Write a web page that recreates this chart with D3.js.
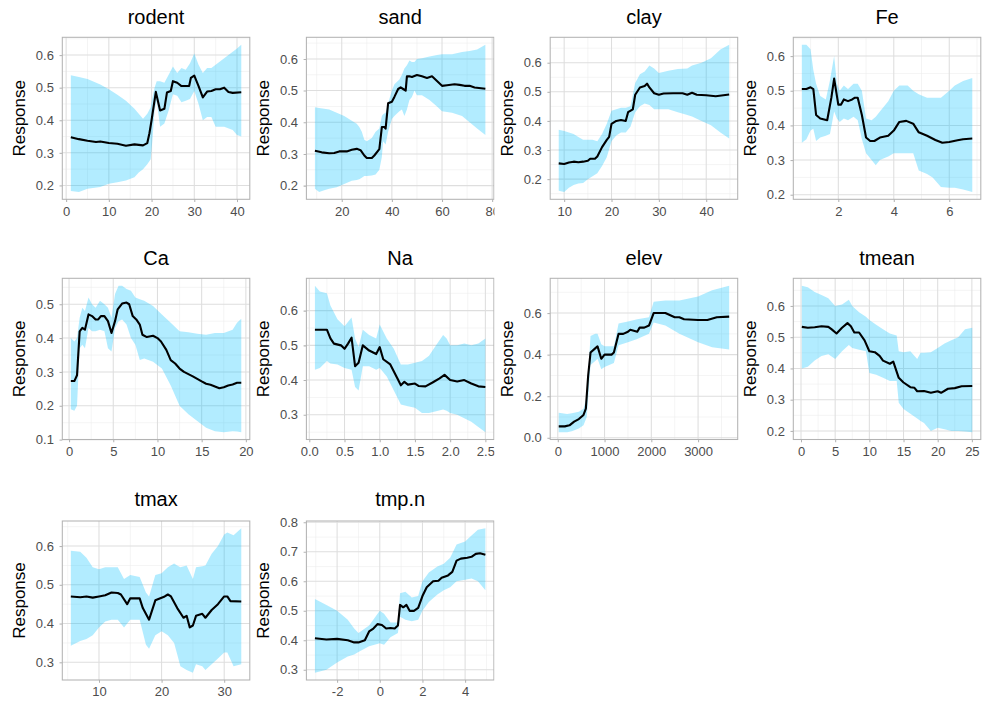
<!DOCTYPE html>
<html>
<head>
<meta charset="utf-8">
<script src="https://cdn.jsdelivr.net/npm/d3@7"></script>
<style>
  html, body { margin: 0; padding: 0; background: #fff; }
  svg { display: block; font-family: "Liberation Sans", Arial, Helvetica, sans-serif; }
</style>
</head>
<body>
<svg id="chart" width="982" height="704"></svg>
<script>
// Partial response curves: fitted response [x, y] and confidence band [x, lower, upper]
const rodentFit = [[1.1,0.348],[3,0.342],[5,0.337],[7,0.333],[8,0.335],[10,0.330],[12,0.328],[14,0.322],[16,0.326],[18,0.323],[19,0.330],[19.5,0.36],[20,0.40],[21,0.487],[22,0.430],[23,0.435],[23.6,0.485],[24.5,0.490],[25,0.520],[26,0.515],[27,0.505],[28.8,0.505],[29.2,0.530],[30,0.537],[31,0.505],[32,0.470],[33,0.488],[34,0.490],[35,0.495],[36,0.495],[37,0.500],[38,0.487],[39,0.484],[41,0.486]];
const rodentBand = [[1.1,0.183,0.538],[3,0.180,0.533],[5,0.190,0.527],[8,0.195,0.510],[10,0.205,0.495],[12,0.210,0.478],[14,0.215,0.460],[16,0.225,0.435],[17,0.240,0.420],[18,0.250,0.405],[19,0.265,0.420],[19.8,0.280,0.440],[20.2,0.340,0.470],[20.7,0.430,0.500],[21.2,0.460,0.520],[22,0.380,0.520],[23,0.390,0.515],[24,0.430,0.540],[25,0.480,0.565],[26,0.475,0.545],[27,0.455,0.560],[28,0.460,0.555],[29,0.465,0.575],[30,0.490,0.605],[31,0.450,0.570],[32,0.400,0.545],[33,0.410,0.560],[34,0.410,0.560],[35,0.380,0.570],[37,0.380,0.590],[39,0.370,0.610],[40,0.355,0.620],[41,0.350,0.632]];

const sandFit = [[9.3,0.310],[12,0.305],[15,0.302],[17,0.303],[19,0.308],[22,0.308],[24,0.313],[26,0.316],[27.5,0.312],[29,0.295],[30,0.287],[32,0.287],[33,0.295],[35,0.315],[36,0.385],[37,0.385],[37.5,0.380],[38.5,0.460],[40,0.465],[41,0.480],[42.5,0.505],[43.5,0.510],[44.5,0.505],[45.5,0.500],[46,0.545],[47,0.545],[48,0.543],[50,0.549],[52,0.545],[54,0.540],[56,0.545],[58,0.530],[60,0.515],[62,0.517],[65,0.520],[67,0.518],[69,0.515],[71,0.515],[73,0.510],[77.3,0.506]];
const sandBand = [[9.3,0.190,0.447],[11,0.180,0.445],[13,0.185,0.443],[15,0.190,0.440],[18,0.195,0.430],[21,0.205,0.420],[24,0.215,0.405],[26,0.218,0.395],[27,0.220,0.385],[28,0.225,0.370],[29,0.230,0.345],[30,0.230,0.340],[32,0.232,0.350],[33.5,0.235,0.370],[35,0.250,0.380],[36,0.290,0.420],[36.5,0.340,0.425],[37.5,0.330,0.430],[38.5,0.370,0.460],[40,0.410,0.500],[41,0.420,0.520],[43,0.435,0.535],[44,0.440,0.550],[45,0.420,0.570],[46,0.440,0.580],[47,0.470,0.595],[48,0.480,0.590],[49,0.500,0.590],[50,0.485,0.600],[52,0.485,0.602],[55,0.470,0.608],[58,0.450,0.612],[60,0.435,0.615],[64,0.430,0.615],[68,0.420,0.622],[71,0.400,0.625],[74,0.380,0.630],[77.3,0.360,0.645]];

const clayFit = [[8.85,0.254],[10,0.252],[11,0.257],[12,0.260],[13,0.258],[14,0.260],[15,0.263],[15.5,0.270],[16.5,0.270],[17,0.278],[18,0.310],[19,0.335],[19.5,0.345],[20,0.390],[21,0.400],[22,0.403],[23,0.400],[23.5,0.430],[24.5,0.440],[25,0.490],[26,0.515],[27,0.520],[27.5,0.528],[28,0.515],[29,0.495],[30,0.490],[31,0.494],[33,0.495],[35,0.495],[36,0.490],[37,0.497],[38,0.490],[40,0.488],[42,0.485],[44.85,0.491]];
const clayBand = [[8.85,0.160,0.370],[10,0.156,0.365],[11,0.170,0.360],[12,0.180,0.355],[13,0.185,0.345],[14,0.187,0.335],[15,0.200,0.335],[16,0.210,0.335],[17,0.220,0.330],[18,0.245,0.355],[19,0.275,0.390],[20,0.330,0.435],[21,0.350,0.440],[22,0.360,0.445],[23,0.360,0.445],[24,0.380,0.450],[25,0.430,0.530],[26,0.450,0.560],[27,0.460,0.570],[28,0.455,0.590],[29,0.440,0.580],[30,0.440,0.565],[32,0.440,0.572],[34,0.430,0.578],[36,0.420,0.580],[37,0.415,0.590],[39,0.400,0.600],[41,0.385,0.615],[43,0.360,0.645],[44.85,0.340,0.662]];

const feFit = [[0.685,0.505],[0.85,0.505],[1.0,0.510],[1.1,0.505],[1.2,0.430],[1.35,0.420],[1.6,0.415],[1.75,0.480],[1.85,0.535],[2.0,0.460],[2.1,0.460],[2.2,0.475],[2.35,0.470],[2.5,0.475],[2.6,0.480],[2.7,0.480],[2.85,0.430],[3.0,0.365],[3.15,0.355],[3.3,0.355],[3.5,0.365],[3.8,0.370],[4.0,0.385],[4.2,0.410],[4.45,0.413],[4.7,0.405],[4.9,0.380],[5.2,0.370],[5.5,0.358],[5.75,0.350],[6.0,0.352],[6.3,0.357],[6.5,0.360],[6.83,0.362]];
const feBand = [[0.685,0.350,0.633],[0.85,0.360,0.633],[1.0,0.385,0.620],[1.1,0.390,0.560],[1.2,0.355,0.520],[1.35,0.365,0.485],[1.55,0.370,0.475],[1.7,0.375,0.530],[1.85,0.440,0.600],[1.95,0.420,0.520],[2.05,0.410,0.500],[2.2,0.420,0.515],[2.35,0.415,0.505],[2.55,0.425,0.520],[2.7,0.415,0.520],[2.85,0.360,0.500],[3.0,0.320,0.420],[3.2,0.300,0.415],[3.35,0.285,0.425],[3.5,0.300,0.440],[3.8,0.310,0.470],[4.0,0.320,0.500],[4.2,0.320,0.515],[4.5,0.320,0.515],[4.7,0.320,0.500],[4.9,0.270,0.490],[5.2,0.260,0.480],[5.4,0.250,0.480],[5.7,0.222,0.480],[6.0,0.220,0.500],[6.2,0.220,0.515],[6.5,0.215,0.528],[6.83,0.208,0.537]];

const caFit = [[0.2,0.273],[0.6,0.273],[0.9,0.290],[1.2,0.420],[1.5,0.430],[1.8,0.425],[2.2,0.470],[2.6,0.465],[3.0,0.455],[3.3,0.455],[3.6,0.465],[4.0,0.465],[4.4,0.450],[4.8,0.415],[5.2,0.450],[5.5,0.485],[6.0,0.502],[6.5,0.505],[6.8,0.500],[7.2,0.465],[7.6,0.455],[8.0,0.440],[8.3,0.410],[8.8,0.403],[9.5,0.407],[10.0,0.400],[10.4,0.390],[11,0.365],[11.5,0.335],[12,0.325],[12.5,0.310],[13,0.300],[14,0.287],[15,0.272],[15.5,0.265],[16,0.262],[16.5,0.257],[17,0.252],[17.5,0.255],[18,0.260],[18.5,0.263],[19,0.268],[19.48,0.268]];
const caBand = [[0.2,0.190,0.400],[0.6,0.185,0.390],[0.9,0.200,0.400],[1.2,0.370,0.460],[1.5,0.380,0.490],[1.8,0.370,0.480],[2.2,0.430,0.520],[2.6,0.420,0.500],[3.0,0.420,0.490],[3.5,0.425,0.510],[4.0,0.420,0.500],[4.4,0.370,0.490],[4.8,0.360,0.460],[5.2,0.430,0.530],[5.6,0.450,0.555],[6.0,0.455,0.555],[6.5,0.440,0.545],[7.0,0.400,0.540],[7.5,0.380,0.520],[8.0,0.335,0.515],[8.5,0.340,0.510],[9.5,0.330,0.495],[10.5,0.310,0.470],[11.5,0.260,0.445],[12.5,0.200,0.420],[13.5,0.175,0.417],[14.5,0.155,0.413],[15.5,0.135,0.410],[16.5,0.125,0.415],[17.5,0.122,0.415],[18.5,0.125,0.425],[19,0.124,0.445],[19.48,0.122,0.457]];

const naFit = [[0.08,0.545],[0.15,0.545],[0.25,0.545],[0.3,0.520],[0.35,0.505],[0.45,0.500],[0.5,0.490],[0.55,0.505],[0.6,0.522],[0.65,0.440],[0.7,0.450],[0.76,0.500],[0.85,0.485],[0.95,0.475],[1.0,0.495],[1.05,0.460],[1.15,0.445],[1.25,0.405],[1.3,0.385],[1.35,0.395],[1.4,0.387],[1.5,0.390],[1.55,0.383],[1.65,0.382],[1.75,0.393],[1.85,0.405],[1.92,0.415],[2.0,0.400],[2.1,0.396],[2.2,0.400],[2.3,0.390],[2.4,0.382],[2.5,0.380]];
const naBand = [[0.08,0.430,0.672],[0.15,0.435,0.655],[0.25,0.455,0.650],[0.3,0.448,0.615],[0.4,0.445,0.575],[0.5,0.435,0.555],[0.6,0.430,0.580],[0.65,0.380,0.520],[0.7,0.370,0.495],[0.76,0.440,0.545],[0.85,0.440,0.530],[0.95,0.430,0.520],[1.0,0.435,0.560],[1.1,0.410,0.520],[1.2,0.370,0.490],[1.3,0.330,0.445],[1.4,0.325,0.445],[1.5,0.320,0.450],[1.6,0.305,0.455],[1.7,0.305,0.470],[1.8,0.310,0.500],[1.9,0.315,0.530],[1.95,0.312,0.520],[2.0,0.305,0.500],[2.1,0.300,0.500],[2.2,0.290,0.505],[2.3,0.280,0.500],[2.4,0.265,0.505],[2.5,0.250,0.520]];

const elevFit = [[20,0.055],[150,0.055],[250,0.060],[350,0.078],[450,0.090],[550,0.110],[600,0.140],[650,0.300],[700,0.410],[800,0.430],[850,0.440],[930,0.380],[1000,0.400],[1150,0.400],[1200,0.410],[1300,0.500],[1400,0.500],[1500,0.510],[1550,0.520],[1700,0.510],[1750,0.530],[1850,0.530],[1950,0.540],[2050,0.600],[2300,0.600],[2500,0.580],[2600,0.580],[2700,0.570],[3000,0.567],[3200,0.567],[3400,0.580],[3665,0.583]];
const elevBand = [[20,0.027,0.120],[200,0.027,0.115],[300,0.032,0.118],[450,0.045,0.125],[550,0.060,0.140],[620,0.100,0.200],[700,0.350,0.490],[800,0.370,0.500],[850,0.380,0.500],[930,0.330,0.450],[1000,0.340,0.440],[1200,0.360,0.440],[1300,0.445,0.550],[1500,0.460,0.560],[1700,0.475,0.570],[1950,0.500,0.580],[2050,0.555,0.655],[2300,0.540,0.660],[2600,0.500,0.660],[3000,0.460,0.680],[3300,0.435,0.710],[3665,0.425,0.732]];

const tmeanFit = [[0.12,0.533],[1,0.530],[2,0.532],[3,0.535],[4,0.533],[4.5,0.525],[5.2,0.512],[6,0.530],[6.8,0.545],[7.3,0.535],[7.8,0.515],[8.5,0.515],[9.3,0.490],[10.0,0.455],[10.8,0.452],[11.5,0.440],[12,0.425],[13,0.415],[13.5,0.422],[14.3,0.370],[15,0.355],[16,0.340],[16.6,0.338],[17,0.327],[18,0.328],[19,0.322],[20,0.327],[20.5,0.322],[21.5,0.335],[22.5,0.337],[23.5,0.343],[25.06,0.344]];
const tmeanBand = [[0.12,0.400,0.665],[1,0.405,0.660],[2,0.425,0.645],[3,0.440,0.635],[4,0.445,0.625],[5,0.430,0.600],[6,0.455,0.605],[7,0.475,0.620],[7.5,0.465,0.600],[8.5,0.460,0.580],[9.5,0.455,0.565],[10,0.385,0.555],[11,0.380,0.540],[12,0.370,0.525],[13,0.360,0.512],[14,0.360,0.505],[14.3,0.290,0.455],[15,0.270,0.452],[16,0.255,0.455],[17,0.240,0.430],[17.5,0.232,0.450],[18,0.225,0.450],[19,0.200,0.452],[20,0.210,0.465],[21,0.205,0.480],[22,0.200,0.490],[23,0.200,0.500],[24,0.198,0.525],[25.06,0.196,0.530]];

const tmaxFit = [[5.5,0.470],[7,0.468],[8,0.470],[9,0.467],[10,0.470],[11,0.473],[12,0.480],[13,0.479],[13.5,0.475],[14.5,0.450],[15,0.465],[16.5,0.465],[17,0.440],[18,0.410],[19,0.460],[20.5,0.470],[21,0.475],[21.5,0.470],[22.5,0.440],[23.5,0.415],[24,0.420],[24.5,0.390],[25,0.395],[25.5,0.420],[26.5,0.425],[27,0.415],[28,0.435],[29,0.450],[30,0.470],[30.5,0.470],[31,0.458],[32.73,0.457]];
const tmaxBand = [[5.5,0.343,0.588],[7,0.355,0.585],[8,0.360,0.570],[9,0.370,0.545],[10,0.390,0.540],[11,0.405,0.545],[12,0.410,0.545],[13,0.410,0.545],[14,0.390,0.515],[15,0.410,0.525],[16.5,0.410,0.520],[17.5,0.345,0.480],[18,0.335,0.470],[19,0.370,0.525],[20,0.380,0.530],[21,0.370,0.545],[22,0.350,0.555],[22.5,0.320,0.550],[23,0.290,0.545],[24,0.280,0.550],[25,0.273,0.515],[25.5,0.295,0.545],[26.5,0.290,0.548],[27,0.280,0.550],[28,0.295,0.580],[29,0.310,0.600],[30,0.325,0.630],[30.5,0.325,0.635],[31.5,0.290,0.628],[32.73,0.295,0.646]];

const tmpnFit = [[-3.04,0.407],[-2.5,0.403],[-2,0.405],[-1.5,0.400],[-1.2,0.393],[-1,0.393],[-0.7,0.400],[-0.5,0.430],[-0.3,0.440],[-0.1,0.455],[0.1,0.452],[0.3,0.440],[0.5,0.442],[0.7,0.440],[0.85,0.450],[0.95,0.520],[1.1,0.512],[1.25,0.520],[1.4,0.500],[1.6,0.500],[1.8,0.510],[2.0,0.550],[2.2,0.580],[2.5,0.600],[2.75,0.602],[2.9,0.612],[3.2,0.620],[3.4,0.632],[3.6,0.670],[3.8,0.677],[4.1,0.680],[4.3,0.683],[4.5,0.693],[4.7,0.695],[4.95,0.690]];
const tmpnBand = [[-3.04,0.290,0.540],[-2.5,0.300,0.520],[-2,0.325,0.500],[-1.5,0.345,0.470],[-1.2,0.352,0.440],[-1,0.360,0.425],[-0.5,0.380,0.450],[0,0.390,0.500],[0.2,0.385,0.490],[0.5,0.410,0.460],[0.85,0.425,0.460],[0.95,0.480,0.560],[1.2,0.470,0.565],[1.5,0.465,0.545],[1.8,0.470,0.550],[2.0,0.500,0.600],[2.3,0.530,0.630],[2.7,0.555,0.650],[3.0,0.570,0.660],[3.3,0.580,0.680],[3.6,0.600,0.725],[4.0,0.605,0.735],[4.3,0.610,0.755],[4.6,0.600,0.775],[4.95,0.570,0.780]];

// Panel titles and axis tick values
const variables = ["rodent", "sand", "clay", "Fe", "Ca", "Na", "elev", "tmean", "tmax", "tmp.n"];
const xTickSets = [[0,10,20,30,40],[20,40,60,80],[10,20,30,40],[2,4,6],[0,5,10,15,20],[0,0.5,1,1.5,2,2.5],[0,1000,2000,3000],[0,5,10,15,20,25],[10,20,30],[-2,0,2,4]];
const yTickSets = [[0.2,0.3,0.4,0.5,0.6],[0.2,0.3,0.4,0.5,0.6],[0.2,0.3,0.4,0.5,0.6],[0.2,0.3,0.4,0.5,0.6],[0.1,0.2,0.3,0.4,0.5],[0.3,0.4,0.5,0.6],[0,0.2,0.4,0.6],[0.2,0.3,0.4,0.5,0.6],[0.3,0.4,0.5,0.6],[0.3,0.4,0.5,0.6,0.7,0.8]];
const xTickDecimals = [0,0,0,0,0,1,0,0,0,0];
const fits = [rodentFit, sandFit, clayFit, feFit, caFit, naFit, elevFit, tmeanFit, tmaxFit, tmpnFit];
const bands = [rodentBand, sandBand, clayBand, feBand, caBand, naBand, elevBand, tmeanBand, tmaxBand, tmpnBand];

// Layout of the 4-column grid of panels
const colLeft = [62.3, 306.4, 550.2, 793.3];
const panelW = 187.5;
const rowTop = [37.3, 278.3, 521];
const rowBottom = [199.3, 439.5, 680];
const rowTitleGap = [13.5, 13.5, 15.5];
const colClipRight = [982, 494.5, 982, 982];

const svg = d3.select("#chart");
const defs = svg.append("defs");

function expand(ext) {
  const pad = (ext[1] - ext[0]) * 0.05;
  return [ext[0] - pad, ext[1] + pad];
}
function minorBreaks(ticks, domain) {
  const step = ticks[1] - ticks[0];
  const out = [];
  for (let v = ticks[0] - step / 2; v <= ticks[ticks.length - 1] + step / 2 + 1e-9; v += step) {
    if (v >= domain[0] && v <= domain[1]) out.push(v);
  }
  return out;
}

variables.forEach((name, i) => {
  const col = i % 4, row = Math.floor(i / 4);
  const left = colLeft[col], right = left + panelW;
  const top = rowTop[row], bottom = rowBottom[row];
  const fit = fits[i], band = bands[i];

  const xs = fit.map(d => d[0]).concat(band.map(d => d[0]));
  const ys = fit.map(d => d[1]).concat(band.map(d => d[1]), band.map(d => d[2]));
  const x = d3.scaleLinear().domain(expand(d3.extent(xs))).range([left, right]);
  const y = d3.scaleLinear().domain(expand(d3.extent(ys))).range([bottom, top]);

  // clip the whole cell on its right side where the next plot starts
  const cellClip = "cell-" + i;
  defs.append("clipPath").attr("id", cellClip)
    .append("rect").attr("x", 0).attr("y", 0).attr("width", colClipRight[col]).attr("height", 704);
  const g = svg.append("g").attr("clip-path", `url(#${cellClip})`);

  const panelClip = "panel-" + i;
  defs.append("clipPath").attr("id", panelClip)
    .append("rect").attr("x", left).attr("y", top).attr("width", right - left).attr("height", bottom - top);

  const xTicks = xTickSets[i], yTicks = yTickSets[i];

  // grid lines
  const grid = g.append("g");
  minorBreaks(xTicks, x.domain()).forEach(v => {
    grid.append("line").attr("x1", x(v)).attr("x2", x(v)).attr("y1", top).attr("y2", bottom)
      .attr("stroke", "#ebebeb").attr("stroke-width", 0.55);
  });
  minorBreaks(yTicks, y.domain()).forEach(v => {
    grid.append("line").attr("x1", left).attr("x2", right).attr("y1", y(v)).attr("y2", y(v))
      .attr("stroke", "#ebebeb").attr("stroke-width", 0.55);
  });
  xTicks.forEach(v => {
    grid.append("line").attr("x1", x(v)).attr("x2", x(v)).attr("y1", top).attr("y2", bottom)
      .attr("stroke", "#dedede").attr("stroke-width", 1.05);
  });
  yTicks.forEach(v => {
    grid.append("line").attr("x1", left).attr("x2", right).attr("y1", y(v)).attr("y2", y(v))
      .attr("stroke", "#dedede").attr("stroke-width", 1.05);
  });

  // confidence band and fitted response
  const plot = g.append("g").attr("clip-path", `url(#${panelClip})`);
  plot.append("path")
    .datum(band)
    .attr("d", d3.area().x(d => x(d[0])).y0(d => y(d[1])).y1(d => y(d[2])))
    .attr("fill", "#00bfff").attr("fill-opacity", 0.3);
  plot.append("path")
    .datum(fit)
    .attr("d", d3.line().x(d => x(d[0])).y(d => y(d[1])))
    .attr("fill", "none").attr("stroke", "#000").attr("stroke-width", 2.1)
    .attr("stroke-linejoin", "round");

  // panel border
  g.append("rect").attr("x", left).attr("y", top).attr("width", right - left).attr("height", bottom - top)
    .attr("fill", "none").attr("stroke", "#b3b3b3").attr("stroke-width", 1.05);

  // axes
  const fmtX = d3.format("." + xTickDecimals[i] + "f");
  const xAxis = d3.axisBottom(x).tickValues(xTicks).tickSize(2.8).tickPadding(4.2)
    .tickFormat(v => fmtX(v).replace("\u2212", "-"));
  const xg = g.append("g").attr("transform", `translate(0,${bottom})`).call(xAxis);
  const yAxis = d3.axisLeft(y).tickValues(yTicks).tickSize(2.8).tickPadding(5.6)
    .tickFormat(d3.format(".1f"));
  const yg = g.append("g").attr("transform", `translate(${left},0)`).call(yAxis);
  [xg, yg].forEach(a => {
    a.select(".domain").remove();
    a.selectAll(".tick line").attr("stroke", "#b3b3b3").attr("stroke-width", 1.05);
    a.selectAll(".tick text").attr("fill", "#4d4d4d").style("font-size", "13px")
      .style("font-family", "'Liberation Sans', Arial, Helvetica, sans-serif");
  });

  // y axis title
  g.append("text")
    .attr("transform", `translate(${left - 37.5},${(top + bottom) / 2}) rotate(-90)`)
    .attr("text-anchor", "middle")
    .style("font-size", "17px").attr("fill", "#000")
    .text("Response");

  // plot title
  g.append("text")
    .attr("x", (left + right) / 2).attr("y", top - rowTitleGap[row])
    .attr("text-anchor", "middle")
    .style("font-size", "20px").attr("fill", "#000")
    .text(name);
});
</script>
</body>
</html>
